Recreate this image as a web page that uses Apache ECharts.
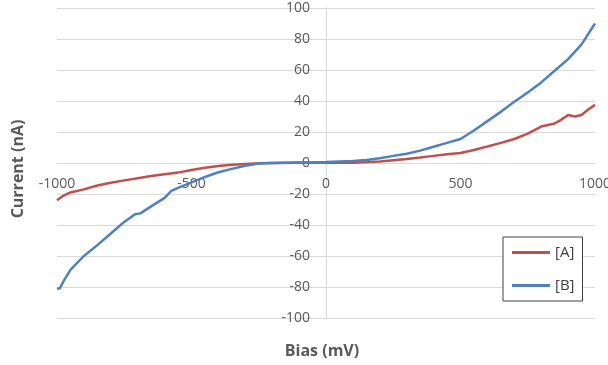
<!DOCTYPE html>
<html>
<head>
<meta charset="utf-8">
<script src="https://cdn.jsdelivr.net/npm/echarts@6/dist/echarts.min.js"></script>
<style>
html,body{margin:0;padding:0;background:#fff;}
#chart{width:608px;height:365px;}
</style>
</head>
<body>
<div id="chart"></div>
<script>
var seriesNames = ['[A]', '[B]'];
var biasA = [-1000,-975,-950,-900,-850,-800,-750,-700,-650,-600,-550,-500,-450,-400,-350,-300,-250,-200,-100,0,100,200,250,300,350,400,450,500,550,600,650,700,750,800,825,850,875,900,925,950,975,1000];
var currentA = [-24,-21,-19,-17,-14.5,-12.8,-11.2,-9.8,-8.4,-7.2,-6.2,-4.5,-3,-1.9,-1.2,-0.6,-0.2,0,0.1,0.1,0.2,1,1.8,2.6,3.5,4.6,5.6,6.5,8.4,10.6,13,15.5,18.9,23.5,24.5,25.5,28,31,30,31,34.5,37.5];
var biasB = [-1000,-990,-975,-950,-925,-900,-850,-800,-750,-710,-690,-650,-600,-575,-550,-500,-450,-400,-350,-300,-250,-200,-150,-100,-50,0,50,100,150,200,250,300,350,400,450,500,550,600,650,700,750,800,850,900,950,1000];
var currentB = [-81,-81,-76,-69,-64.5,-60,-53,-45.5,-38,-33,-32.5,-28,-22.5,-18,-16,-12.5,-9,-6,-3.8,-1.8,-0.3,0,0.2,0.4,0.5,0.7,1,1.3,2,3,4.6,6,8,10.5,13,15.5,21,27,33,39.5,45.5,52,59.5,67,76.5,90];
var xMin = -1000, xMax = 1000, xInterval = 500;
var yMin = -100, yMax = 100, yInterval = 20;
var xTitle = 'Bias (mV)';
var yTitle = 'Current (nA)';

function pairs(xs, ys){ return xs.map(function(x,i){ return [x, ys[i]]; }); }

var chart = echarts.init(document.getElementById('chart'));
var labelFont = '"Open Sans", sans-serif';
var gridLeft = 57, gridRight = 13, gridTop = 8, gridBottom = 47;
var plotW = 608 - gridLeft - gridRight, plotH = 365 - gridTop - gridBottom;
chart.setOption({
  animation: false,
  grid: {left: gridLeft, right: gridRight, top: gridTop, bottom: gridBottom, containLabel: false, outerBoundsMode: 'none'},
  xAxis: {
    type: 'value', min: xMin, max: xMax, interval: xInterval,
    position: 'bottom', offset: -plotH / 2,
    axisLine: {show: true, onZero: false, lineStyle: {color: '#d9d9d9', width: 1}},
    axisTick: {show: false},
    splitLine: {show: false},
    axisLabel: {color: '#595959', fontSize: 14, fontFamily: labelFont, margin: 14,
      formatter: function(v){ return String(v); }}
  },
  yAxis: {
    type: 'value', min: yMin, max: yMax, interval: yInterval,
    position: 'left', offset: -plotW / 2,
    axisLine: {show: true, onZero: false, lineStyle: {color: '#d9d9d9', width: 1}},
    axisTick: {show: false},
    splitLine: {show: true, lineStyle: {color: '#d9d9d9', width: 1}},
    axisLabel: {color: '#595959', fontSize: 14, fontFamily: labelFont, margin: 16,
      formatter: function(v){ return String(v); }}
  },
  legend: {
    orient: 'vertical', left: 503, top: 237,
    padding: [8, 8, 8, 9],
    icon: 'rect',
    itemWidth: 38, itemHeight: 3, itemGap: 18,
    backgroundColor: '#fff', borderColor: '#404040', borderWidth: 1, borderRadius: 0,
    textStyle: {color: '#404040', fontSize: 15, fontFamily: labelFont},
    data: seriesNames
  },
  graphic: [
    {type: 'text', x: 322, y: 351, style: {text: xTitle, fill: '#595959', font: 'bold 16px "Open Sans", sans-serif', textAlign: 'center', textVerticalAlign: 'middle'}},
    {type: 'text', rotation: Math.PI/2, x: 18, y: 169, style: {text: yTitle, fill: '#595959', font: 'bold 16px "Open Sans", sans-serif', textAlign: 'center', textVerticalAlign: 'middle'}}
  ],
  series: [
    {name: seriesNames[0], type: 'line', data: pairs(biasA, currentA), symbol: 'none', lineStyle: {color: '#C0504D', width: 2.5}, itemStyle: {color: '#C0504D'}, z: 3},
    {name: seriesNames[1], type: 'line', data: pairs(biasB, currentB), symbol: 'none', lineStyle: {color: '#4F81BD', width: 2.5}, itemStyle: {color: '#4F81BD'}, z: 4}
  ]
});
</script>
</body>
</html>
